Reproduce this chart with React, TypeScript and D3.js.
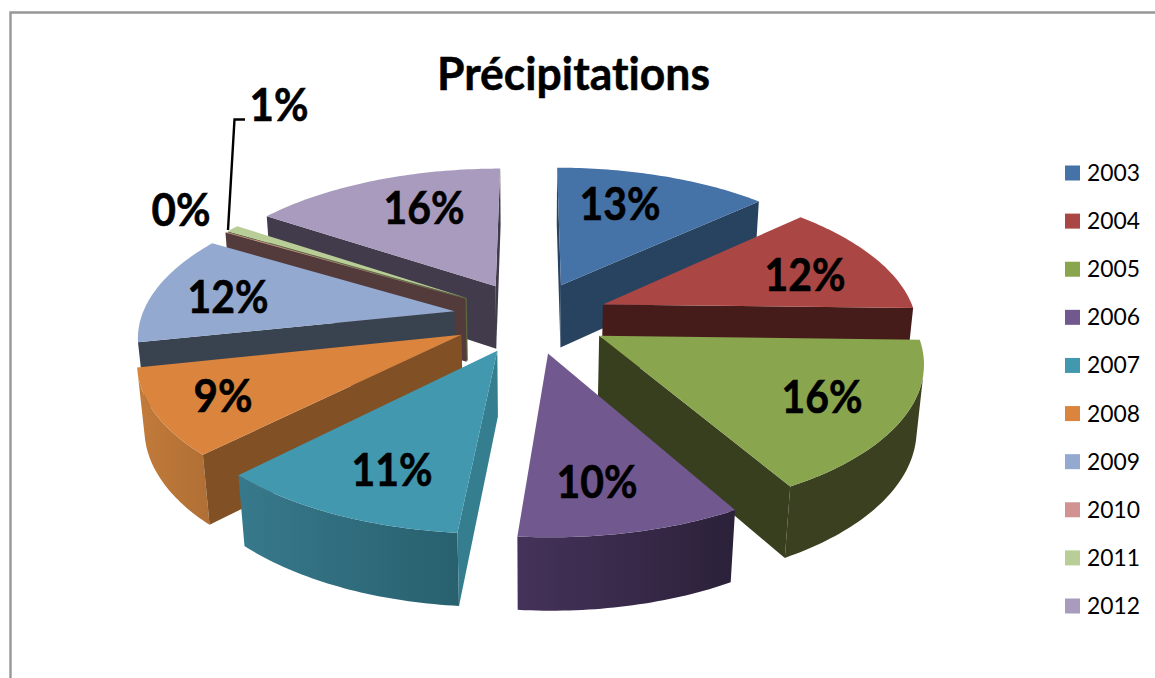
import React from "react";
import * as d3 from "d3";

// Annual share of precipitation, in percent
const years = ["2003", "2004", "2005", "2006", "2007", "2008", "2009", "2010", "2011", "2012"];
const shares = [13.0, 12.4, 16.45, 9.55, 10.9, 9.3, 12.0, 0.1, 0.8, 15.5];

// Palette for the faces of each wedge
const topColors = ["#4572A7", "#AA4643", "#89A54E", "#71588F", "#4198AF", "#DB843D", "#93A9CF", "#D19392", "#B9CD96", "#A99BBD"];
const wallColors = ["#284360", "#451C1A", "#383F1F", "#2E2340", "#357E90", "#825025", "#39424F", "#533A3B", "#5C6A40", "#423B4B"];
const rimLeftColors = ["#365980", "#7F3634", "#3A4020", "#45325A", "#37798C", "#C27B3A", "#6F82A0", "#9C6F6E", "#8C9A70", "#7F7490"];
const rimRightColors = ["#2A4566", "#5F2927", "#3A4020", "#2B2139", "#28606E", "#B06F35", "#5A6A85", "#7C5958", "#707B5A", "#665C74"];

// Placement of the percentage captions
const labelSpots: [number, number][] = [
  [620, 204], [805, 275], [822, 397], [597, 482], [392, 470],
  [223, 396], [228, 297], [181, 210], [279, 105], [424, 208],
];

const WIDTH = 1155;
const HEIGHT = 678;
const FONT = "Lato, Carlito, Calibri, sans-serif";

// Geometry of the tilted, exploded pie
const CENTER_X = 531;
const CENTER_Y = 317;
const RADIUS = 313;
const EXPLODE = 78;
const THICKNESS = 73;
const TILT_SIN = 0.46;
const TILT_COS = 0.89;
const CAMERA = 1850;
const ARC_STEP = Math.PI / 180;

type Pt = [number, number];

// World point (u right, v away from the viewer, z up) to screen coordinates
const project = (u: number, v: number, z: number): Pt => {
  const w = 1 + (v * TILT_COS - z * TILT_SIN) / CAMERA;
  return [CENTER_X + u / w, CENTER_Y - (v * TILT_SIN + z * TILT_COS) / w];
};

const toPath = d3.line<Pt>().x((p) => p[0]).y((p) => p[1]).curve(d3.curveLinearClosed);

const color = d3.scaleOrdinal<string, string>().domain(years).range(topColors);
const wall = d3.scaleOrdinal<string, string>().domain(years).range(wallColors);

const slices = d3
  .pie<number>()
  .sort(null)
  .value((d) => d)(shares)
  .map((arc, i) => {
    const mid = (arc.startAngle + arc.endAngle) / 2;
    return {
      year: years[i],
      index: i,
      start: arc.startAngle,
      end: arc.endAngle,
      mid,
      apexU: EXPLODE * Math.sin(mid),
      apexV: EXPLODE * Math.cos(mid),
    };
  });

type Slice = (typeof slices)[number];

const rimPoint = (s: Slice, a: number, z: number): Pt =>
  project(s.apexU + RADIUS * Math.sin(a), s.apexV + RADIUS * Math.cos(a), z);

const arcAngles = (s: Slice) => {
  const n = Math.max(1, Math.ceil((s.end - s.start) / ARC_STEP));
  return d3.range(n + 1).map((k) => s.start + ((s.end - s.start) * k) / n);
};

// One wedge: the outer rim and the radial walls that face the viewer, then the lit top
function Wedge({ s }: { s: Slice }) {
  const angles = arcAngles(s);
  const apexTop = project(s.apexU, s.apexV, 0);
  const apexBottom = project(s.apexU, s.apexV, -THICKNESS);
  const top: Pt[] = [apexTop, ...angles.map((a) => rimPoint(s, a, 0))];

  const wallFaces: Pt[][] = [
    [apexTop, apexBottom, rimPoint(s, s.start, -THICKNESS), rimPoint(s, s.start, 0)],
    [rimPoint(s, s.end, 0), rimPoint(s, s.end, -THICKNESS), apexBottom, apexTop],
  ].filter((q) => d3.polygonArea(q) < 0);

  // Only the stretch of rim turned toward the viewer is drawn
  const facing = d3.pairs(angles).filter(([a, b]) =>
    d3.polygonArea([rimPoint(s, a, 0), rimPoint(s, a, -THICKNESS), rimPoint(s, b, -THICKNESS), rimPoint(s, b, 0)]) < 0
  );
  const rimAngles = facing.length ? [facing[0][0], ...facing.map((p) => p[1])] : [];
  const rim: Pt[] = [
    ...rimAngles.map((a) => rimPoint(s, a, 0)),
    ...[...rimAngles].reverse().map((a) => rimPoint(s, a, -THICKNESS)),
  ];
  const rimX = d3.extent(rim, (p) => p[0]) as [number, number];
  const gradientId = `rim-${s.year}`;

  return (
    <g>
      {rim.length > 0 && (
        <>
          <defs>
            <linearGradient id={gradientId} gradientUnits="userSpaceOnUse" x1={rimX[0]} x2={rimX[1]} y1={0} y2={0}>
              <stop offset="0" stopColor={rimLeftColors[s.index]} />
              <stop offset="1" stopColor={rimRightColors[s.index]} />
            </linearGradient>
          </defs>
          <path d={toPath(rim) ?? ""} fill={`url(#${gradientId})`} />
        </>
      )}
      {wallFaces.map((q, k) => (
        <path key={k} d={toPath(q) ?? ""} fill={wall(s.year)} />
      ))}
      <path d={toPath(top) ?? ""} fill={color(s.year)} />
    </g>
  );
}

const legendY = d3.scalePoint<string>().domain(years).range([173, 606]);

export default function App() {
  const drawOrder = [...slices].sort((a, b) => b.apexV - a.apexV);
  return (
    <svg
      width={WIDTH}
      height={HEIGHT}
      viewBox={`0 0 ${WIDTH} ${HEIGHT}`}
      style={{ position: "absolute", left: 0, top: 0, background: "#fff" }}
    >
      <path d={`M10.5,${HEIGHT} V12.5 H${WIDTH}`} fill="none" stroke="#979797" strokeWidth={2.4} />

      <text x={573.5} y={90} textAnchor="middle" fontFamily={FONT} fontWeight={700} fontSize={46} textLength={273} lengthAdjust="spacingAndGlyphs" fill="#000" stroke="#000" strokeWidth={0.5} style={{ fontVariantLigatures: "none" }}>
        Précipitations
      </text>

      {drawOrder.map((s) => (
        <Wedge key={s.year} s={s} />
      ))}

      {/* Leader from the caption of the thin 2011 wedge */}
      <path d="M245,119.5 H234.5 L228,230" fill="none" stroke="#000" strokeWidth={2.4} />

      {slices.map((s, i) => {
        const text = `${Math.round(shares[i])}%`;
        return (
          <text
            key={s.year}
            x={labelSpots[i][0]}
            y={labelSpots[i][1] + 16}
            textAnchor="middle"
            fontFamily={FONT}
            fontWeight={700}
            fontSize={45}
            textLength={text.length === 3 ? 81 : 59}
            lengthAdjust="spacingAndGlyphs"
            fill="#000"
            stroke="#000"
            strokeWidth={0.6}
          >
            {text}
          </text>
        );
      })}

      {years.map((y) => (
        <g key={y}>
          <rect x={1065} y={(legendY(y) ?? 0) - 7.5} width={15} height={15} fill={color(y)} />
          <text x={1087} y={(legendY(y) ?? 0) + 8} fontFamily={FONT} fontSize={23} textLength={53} lengthAdjust="spacingAndGlyphs" fill="#000">
            {y}
          </text>
        </g>
      ))}
    </svg>
  );
}
